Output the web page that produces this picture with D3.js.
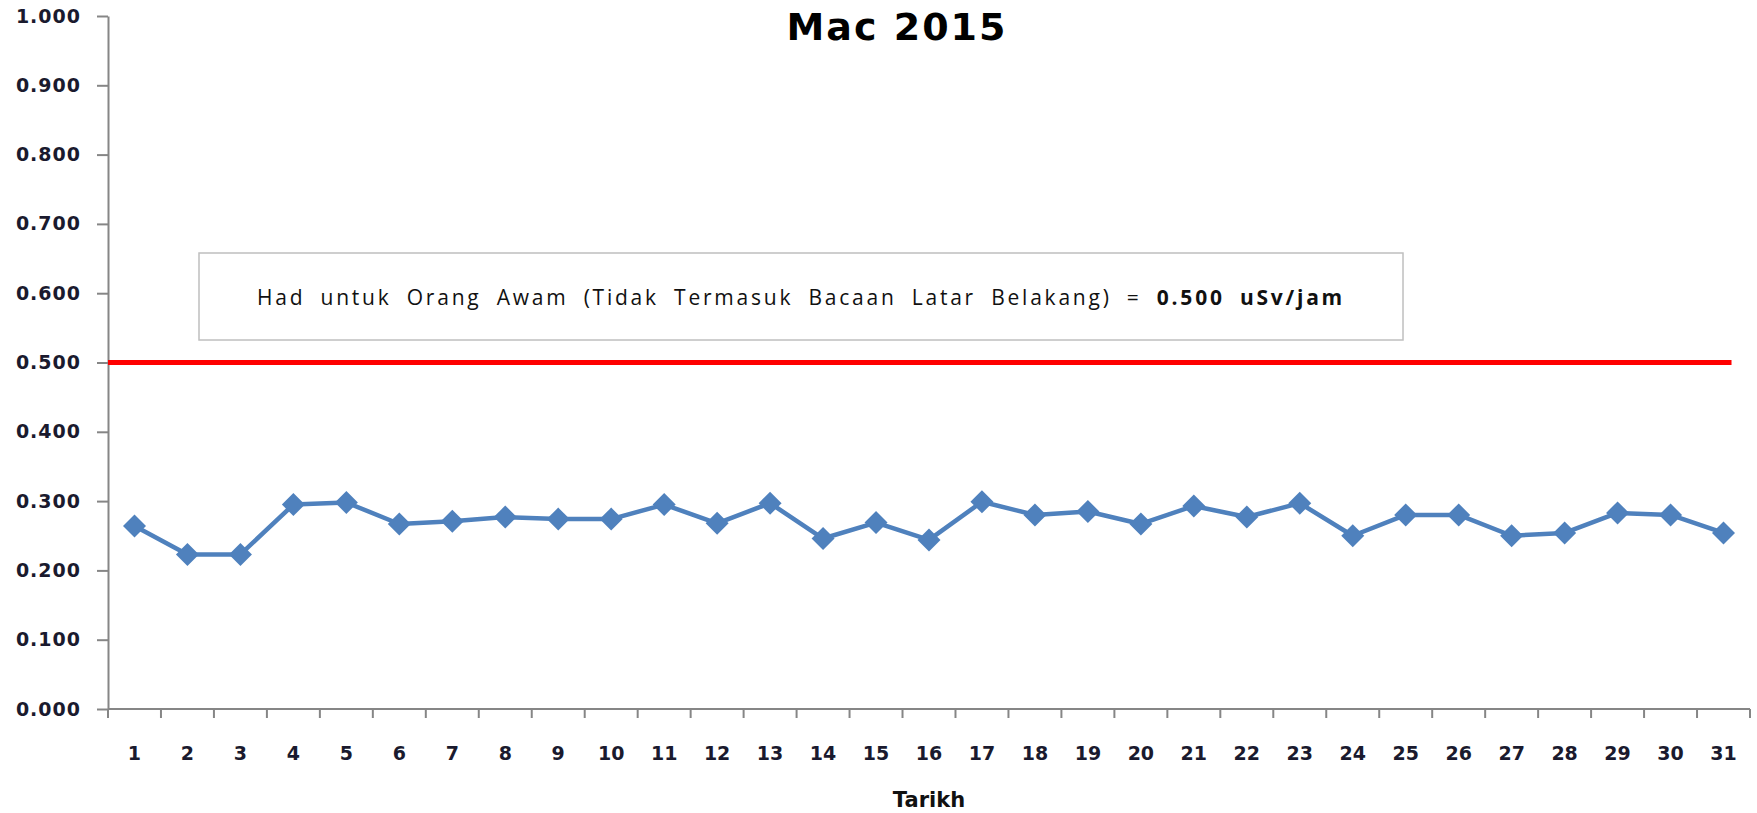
<!DOCTYPE html>
<html>
<head>
<meta charset="utf-8">
<script src="https://cdn.jsdelivr.net/npm/d3@7"></script>
<style>
  body { margin: 0; background: #fff; }
  svg { display: block; }
</style>
</head>
<body>
<div id="chart"></div>
<script>
// bacaan harian, Mac 2015
var days = d3.range(1, 32).map(String);
var readings = [0.264, 0.223, 0.223, 0.295, 0.298, 0.267, 0.271, 0.277, 0.274, 0.274,
                0.295, 0.268, 0.297, 0.246, 0.269, 0.244, 0.299, 0.280, 0.285, 0.267,
                0.293, 0.277, 0.297, 0.250, 0.280, 0.280, 0.250, 0.254, 0.283, 0.280,
                0.254];
var yTicks = [0, 0.1, 0.2, 0.3, 0.4, 0.5, 0.6, 0.7, 0.8, 0.9, 1.0];
var limitValue = 0.5;
var chartTitle = "Mac 2015";
var xTitle = "Tarikh";
var noteText = "Had untuk Orang Awam (Tidak Termasuk Bacaan Latar Belakang) = ";
var noteBold = "0.500 uSv/jam";

var width = 1757, height = 813;
var margin = { top: 16, right: 7, bottom: 104, left: 108 };

var svg = d3.select("#chart").append("svg")
  .attr("width", width)
  .attr("height", height);

var x = d3.scaleBand()
  .domain(days)
  .range([margin.left, width - margin.right]);

var y = d3.scaleLinear()
  .domain([0, 1])
  .range([height - margin.bottom, margin.top]);

var axisColor = "#868686";
var labelFont = "DejaVu Sans, Verdana, sans-serif";

// y axis
var yAxis = svg.append("g")
  .attr("transform", "translate(" + margin.left + ",0)")
  .call(d3.axisLeft(y).tickValues(yTicks).tickFormat(d3.format(".3f"))
    .tickSizeInner(11).tickSizeOuter(0).tickPadding(16));
yAxis.select(".domain").attr("stroke", axisColor).attr("stroke-width", 2);
yAxis.selectAll(".tick line").attr("stroke", axisColor).attr("stroke-width", 2);
yAxis.selectAll(".tick text")
  .attr("fill", "#1a1a2e")
  .style("font-family", labelFont)
  .style("font-weight", "bold")
  .style("font-size", "19px")
  .style("letter-spacing", "1px");

// x axis, ticks between the days
var xAxisG = svg.append("g")
  .attr("transform", "translate(0," + y(0) + ")");
xAxisG.append("line")
  .attr("x1", x.range()[0]).attr("x2", x.range()[1])
  .attr("stroke", axisColor).attr("stroke-width", 2);
xAxisG.selectAll(".xtick")
  .data(days.concat(["end"])).enter()
  .append("line")
  .attr("class", "xtick")
  .attr("x1", (d, i) => x.range()[0] + i * x.step())
  .attr("x2", (d, i) => x.range()[0] + i * x.step())
  .attr("y1", 0).attr("y2", 9)
  .attr("stroke", axisColor).attr("stroke-width", 2);
xAxisG.selectAll(".xlabel")
  .data(days).enter()
  .append("text")
  .attr("class", "xlabel")
  .attr("x", d => x(d) + x.bandwidth() / 2)
  .attr("y", 51)
  .attr("text-anchor", "middle")
  .attr("fill", "#1a1a2e")
  .style("font-family", labelFont)
  .style("font-weight", "bold")
  .style("font-size", "19px")
  .text(d => d);

// x axis title
svg.append("text")
  .attr("x", (x.range()[0] + x.range()[1]) / 2)
  .attr("y", 807)
  .attr("text-anchor", "middle")
  .attr("fill", "#111")
  .style("font-family", labelFont)
  .style("font-weight", "bold")
  .style("font-size", "21px")
  .text(xTitle);

// chart title
svg.append("text")
  .attr("x", 897)
  .attr("y", 40)
  .attr("text-anchor", "middle")
  .attr("fill", "#000")
  .style("font-family", labelFont)
  .style("font-weight", "bold")
  .style("font-size", "38px")
  .style("letter-spacing", "2px")
  .text(chartTitle);

// red limit line
svg.append("line")
  .attr("x1", x.range()[0])
  .attr("x2", x(days[days.length - 1]) + x.bandwidth() / 2 + 8)
  .attr("y1", y(limitValue))
  .attr("y2", y(limitValue))
  .attr("stroke", "#ff0000")
  .attr("stroke-width", 5);

// note box
svg.append("rect")
  .attr("x", 199).attr("y", 253)
  .attr("width", 1204).attr("height", 87)
  .attr("fill", "#fff")
  .attr("stroke", "#bfbfbf")
  .attr("stroke-width", 1.5);

var note = svg.append("text")
  .attr("x", 801)
  .attr("y", 305)
  .attr("text-anchor", "middle")
  .attr("fill", "#111")
  .style("font-family", "Open Sans, Noto Sans, sans-serif")
  .style("font-size", "21px")
  .style("word-spacing", "7px");
note.append("tspan").text(noteText);
note.append("tspan").style("font-weight", "bold").text(noteBold);

// spread the letters so the note fills the same width as the original
var wantWidth = 1088;
var natural = note.node().getComputedTextLength();
var nChars = (noteText + noteBold).length;
note.style("letter-spacing", Math.max(0, (wantWidth - natural) / nChars) + "px");

// data line
var line = d3.line()
  .x((d, i) => x(days[i]) + x.bandwidth() / 2)
  .y(d => y(d));

svg.append("path")
  .datum(readings)
  .attr("fill", "none")
  .attr("stroke", "#4f81bd")
  .attr("stroke-width", 4.5)
  .attr("stroke-linejoin", "round")
  .attr("d", line);

// diamond markers
svg.selectAll(".marker")
  .data(readings).enter()
  .append("path")
  .attr("class", "marker")
  .attr("transform", (d, i) => "translate(" + (x(days[i]) + x.bandwidth() / 2) + "," + y(d) + ")")
  .attr("d", "M0,-11.5L11.5,0L0,11.5L-11.5,0Z")
  .attr("fill", "#4f81bd");
</script>
</body>
</html>
